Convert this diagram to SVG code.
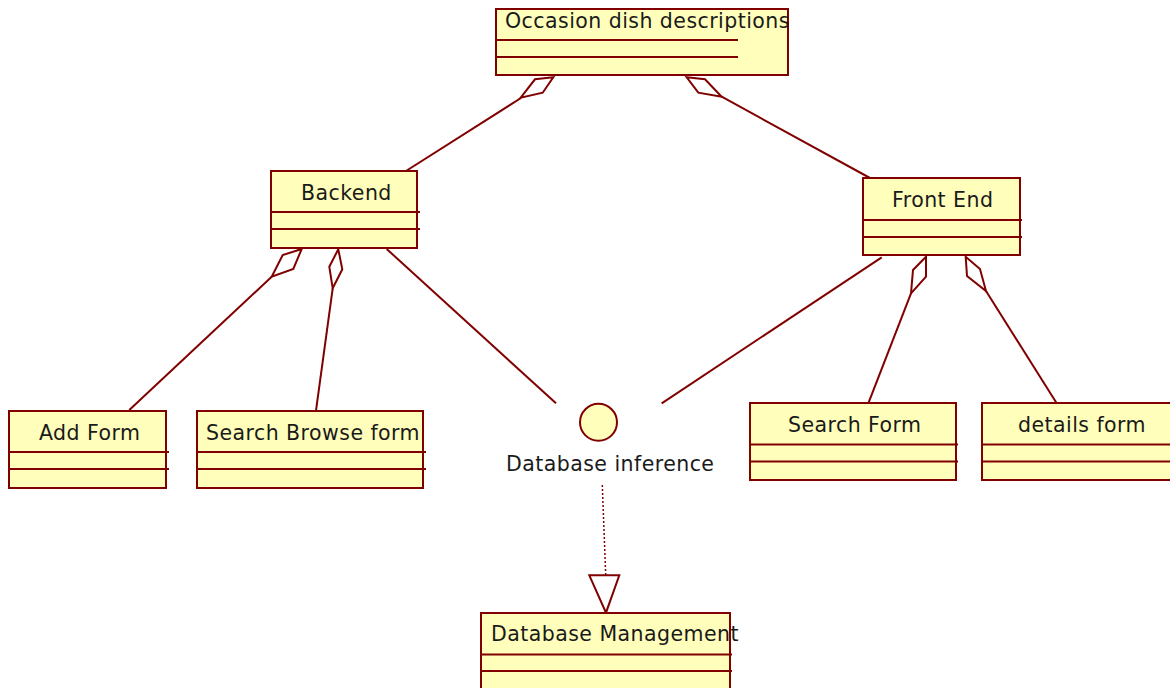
<svg xmlns="http://www.w3.org/2000/svg" width="1170" height="688" viewBox="0 0 1170 688">
<style>
.box{fill:#FFFFBB;stroke:#800000;stroke-width:2}
.sep{stroke:#800000;stroke-width:2;fill:none}
.ln{stroke:#800000;stroke-width:2;fill:none}
.dia{stroke:#800000;stroke-width:2;fill:#FFFFFF}
.dot{stroke:#800000;stroke-width:1.5;fill:none;stroke-dasharray:2,2}
.tri{stroke:#800000;stroke-width:2;fill:#FFFFFF}
text{font-family:"DejaVu Sans","Verdana",sans-serif;font-size:20.5px;letter-spacing:0.45px;fill:#1a1a1a}
</style>
<rect width="1170" height="688" fill="#FFFFFF"/>
<g id="connectors">
<line class="ln" x1="521" y1="98" x2="406" y2="171"/>
<polygon class="dia" points="553.3,77.3 535,79.3 520.7,97.7 542.7,92.7"/>
<line class="ln" x1="721.7" y1="96.7" x2="870" y2="178"/>
<polygon class="dia" points="686.7,77.3 705,79.3 721.7,96.7 698.3,92.7"/>
<line class="ln" x1="271.7" y1="276.7" x2="129.3" y2="410"/>
<polygon class="dia" points="301.7,249 282.7,255 271.7,276.7 293.3,269"/>
<line class="ln" x1="332.7" y1="288.3" x2="316" y2="410.7"/>
<polygon class="dia" points="338.3,249.3 329.3,266.7 332.7,288.3 342.3,269.3"/>
<line class="ln" x1="386.7" y1="249" x2="556" y2="403.3"/>
<line class="ln" x1="881.7" y1="257.3" x2="661.7" y2="403.3"/>
<line class="ln" x1="911" y1="293.3" x2="868.3" y2="403.3"/>
<polygon class="dia" points="926,256.7 913,270 911,293.3 926,276.7"/>
<line class="ln" x1="986" y1="291" x2="1056.7" y2="403.3"/>
<polygon class="dia" points="965.7,256.7 967,276 986,291 980,269"/>
<line class="dot" x1="602.3" y1="485" x2="605.7" y2="575"/>
<polygon class="tri" points="589.3,575.3 619.3,575.3 606,612.7"/>
</g>
<g id="occasion">
<rect class="box" x="496" y="9" width="292" height="66"/>
<line class="sep" x1="496" y1="40" x2="738" y2="40"/>
<line class="sep" x1="496" y1="57" x2="738" y2="57"/>
<text x="505" y="28">Occasion dish descriptions</text>
</g>
<g id="backend">
<rect class="box" x="271" y="171" width="146" height="77"/>
<line class="sep" x1="271" y1="212" x2="420" y2="212"/>
<line class="sep" x1="271" y1="229" x2="420" y2="229"/>
<text x="301" y="200">Backend</text>
</g>
<g id="frontend">
<rect class="box" x="863" y="178" width="157" height="77"/>
<line class="sep" x1="863" y1="220" x2="1022" y2="220"/>
<line class="sep" x1="863" y1="237" x2="1022" y2="237"/>
<text x="892" y="207">Front End</text>
</g>
<g id="addform">
<rect class="box" x="9" y="411" width="157" height="77"/>
<line class="sep" x1="9" y1="452" x2="169" y2="452"/>
<line class="sep" x1="9" y1="469" x2="169" y2="469"/>
<text x="39" y="440">Add Form</text>
</g>
<g id="searchbrowse">
<rect class="box" x="197" y="411" width="226" height="77"/>
<line class="sep" x1="197" y1="452" x2="426" y2="452"/>
<line class="sep" x1="197" y1="469" x2="426" y2="469"/>
<text x="206" y="440">Search Browse form</text>
</g>
<g id="searchform">
<rect class="box" x="750" y="403" width="206" height="77"/>
<line class="sep" x1="750" y1="444.5" x2="958" y2="444.5"/>
<line class="sep" x1="750" y1="461.5" x2="958" y2="461.5"/>
<text x="788" y="432">Search Form</text>
</g>
<g id="detailsform">
<rect class="box" x="982" y="403" width="200" height="77"/>
<line class="sep" x1="982" y1="444.5" x2="1182" y2="444.5"/>
<line class="sep" x1="982" y1="461.5" x2="1182" y2="461.5"/>
<text x="1018" y="432">details form</text>
</g>
<g id="dbinference">
<circle cx="598.5" cy="422.3" r="18.5" fill="#FFFFBB" stroke="#800000" stroke-width="2"/>
<text x="506" y="471">Database inference</text>
</g>
<g id="dbmanagement">
<rect class="box" x="481" y="613" width="249" height="85"/>
<line class="sep" x1="481" y1="654.5" x2="732" y2="654.5"/>
<line class="sep" x1="481" y1="671" x2="732" y2="671"/>
<text x="491" y="641">Database Management</text>
</g>
</svg>
